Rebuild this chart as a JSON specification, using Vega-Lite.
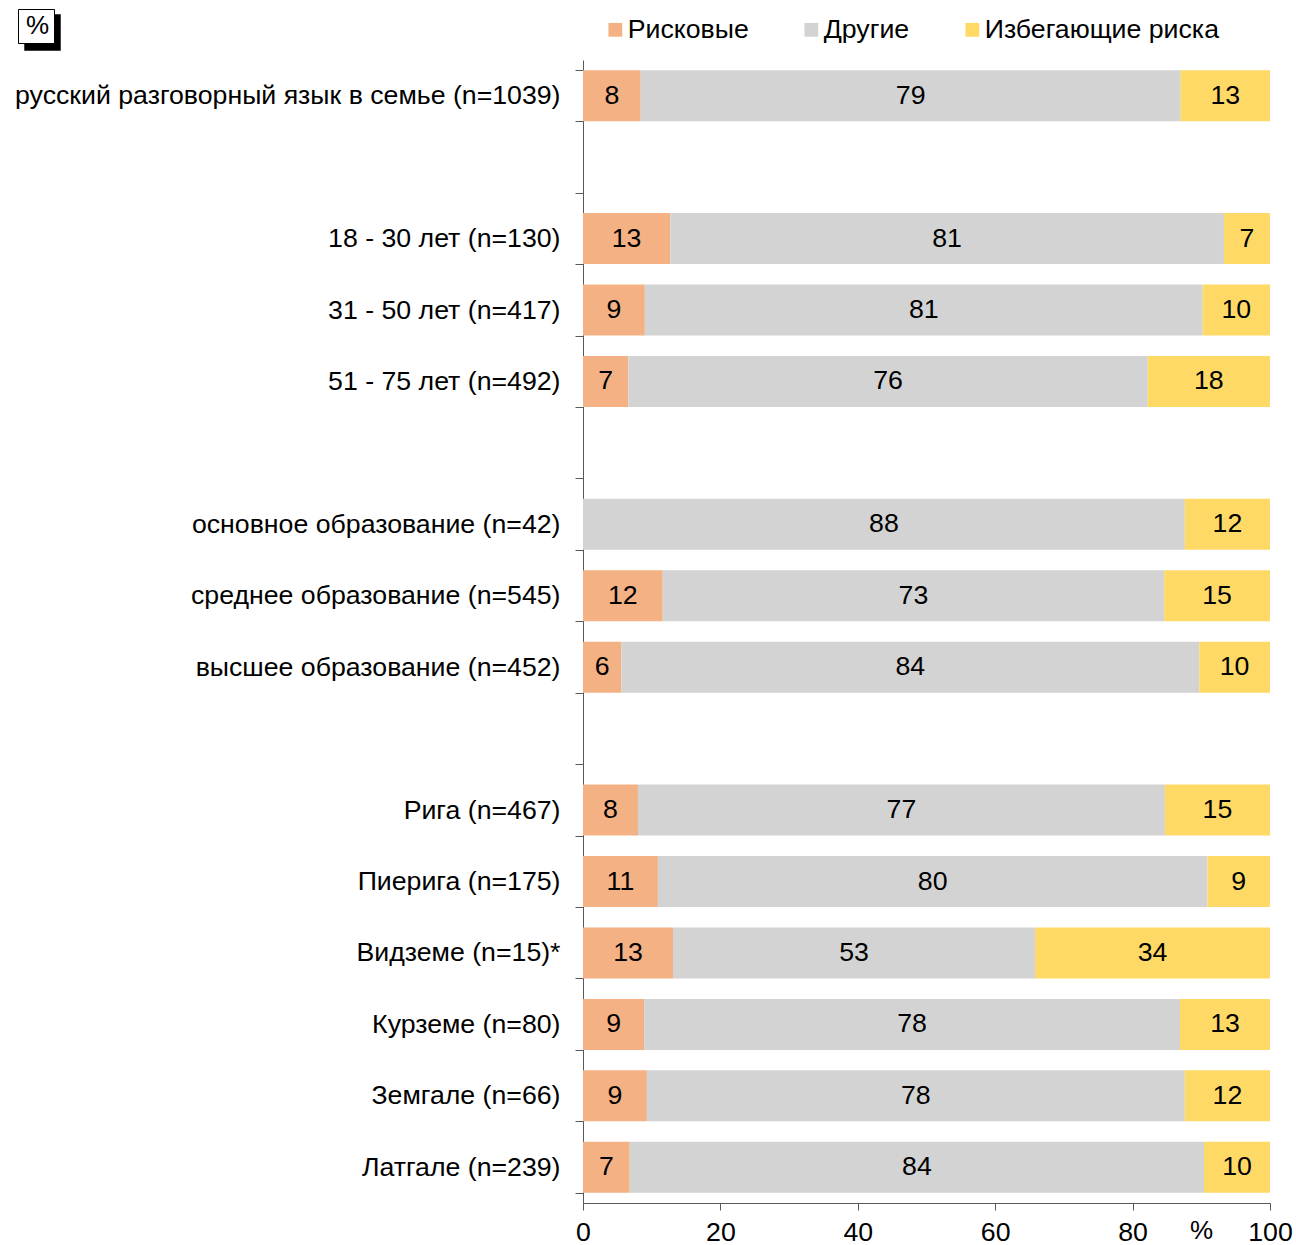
{
  "$schema": "https://vega.github.io/schema/vega-lite/v6.json",
  "width": 687,
  "height": 1143,
  "autosize": {"type": "none"},
  "padding": {"left": 583, "top": 60, "right": 26, "bottom": 42},
  "config": {
    "font": "Liberation Sans",
    "view": {"stroke": null},
    "axis": {"domainColor": "#595959", "tickColor": "#595959", "labelColor": "#000000", "labelFont": "Liberation Sans", "titleFont": "Liberation Sans"},
    "legend": {"labelFont": "Liberation Sans"}
  },
  "datasets": {
    "bars": [
      {"c": "русский разговорный язык в семье (n=1039)", "g": "Рисковые", "v": 8.4, "o": 1},
      {"c": "русский разговорный язык в семье (n=1039)", "g": "Другие", "v": 78.6, "o": 2},
      {"c": "русский разговорный язык в семье (n=1039)", "g": "Избегающие риска", "v": 13.0, "o": 3},
      {"c": "18 - 30 лет (n=130)", "g": "Рисковые", "v": 12.7, "o": 1},
      {"c": "18 - 30 лет (n=130)", "g": "Другие", "v": 80.6, "o": 2},
      {"c": "18 - 30 лет (n=130)", "g": "Избегающие риска", "v": 6.7, "o": 3},
      {"c": "31 - 50 лет (n=417)", "g": "Рисковые", "v": 9.0, "o": 1},
      {"c": "31 - 50 лет (n=417)", "g": "Другие", "v": 81.2, "o": 2},
      {"c": "31 - 50 лет (n=417)", "g": "Избегающие риска", "v": 9.8, "o": 3},
      {"c": "51 - 75 лет (n=492)", "g": "Рисковые", "v": 6.6, "o": 1},
      {"c": "51 - 75 лет (n=492)", "g": "Другие", "v": 75.6, "o": 2},
      {"c": "51 - 75 лет (n=492)", "g": "Избегающие риска", "v": 17.8, "o": 3},
      {"c": "основное образование (n=42)", "g": "Другие", "v": 87.6, "o": 2},
      {"c": "основное образование (n=42)", "g": "Избегающие риска", "v": 12.4, "o": 3},
      {"c": "среднее образование (n=545)", "g": "Рисковые", "v": 11.6, "o": 1},
      {"c": "среднее образование (n=545)", "g": "Другие", "v": 73.0, "o": 2},
      {"c": "среднее образование (n=545)", "g": "Избегающие риска", "v": 15.4, "o": 3},
      {"c": "высшее образование (n=452)", "g": "Рисковые", "v": 5.6, "o": 1},
      {"c": "высшее образование (n=452)", "g": "Другие", "v": 84.1, "o": 2},
      {"c": "высшее образование (n=452)", "g": "Избегающие риска", "v": 10.3, "o": 3},
      {"c": "Рига (n=467)", "g": "Рисковые", "v": 8.0, "o": 1},
      {"c": "Рига (n=467)", "g": "Другие", "v": 76.7, "o": 2},
      {"c": "Рига (n=467)", "g": "Избегающие риска", "v": 15.3, "o": 3},
      {"c": "Пиерига (n=175)", "g": "Рисковые", "v": 10.9, "o": 1},
      {"c": "Пиерига (n=175)", "g": "Другие", "v": 80.0, "o": 2},
      {"c": "Пиерига (n=175)", "g": "Избегающие риска", "v": 9.1, "o": 3},
      {"c": "Видземе (n=15)*", "g": "Рисковые", "v": 13.1, "o": 1},
      {"c": "Видземе (n=15)*", "g": "Другие", "v": 52.7, "o": 2},
      {"c": "Видземе (n=15)*", "g": "Избегающие риска", "v": 34.2, "o": 3},
      {"c": "Курземе (n=80)", "g": "Рисковые", "v": 8.9, "o": 1},
      {"c": "Курземе (n=80)", "g": "Другие", "v": 78.0, "o": 2},
      {"c": "Курземе (n=80)", "g": "Избегающие риска", "v": 13.1, "o": 3},
      {"c": "Земгале (n=66)", "g": "Рисковые", "v": 9.3, "o": 1},
      {"c": "Земгале (n=66)", "g": "Другие", "v": 78.3, "o": 2},
      {"c": "Земгале (n=66)", "g": "Избегающие риска", "v": 12.4, "o": 3},
      {"c": "Латгале (n=239)", "g": "Рисковые", "v": 6.8, "o": 1},
      {"c": "Латгале (n=239)", "g": "Другие", "v": 83.6, "o": 2},
      {"c": "Латгале (n=239)", "g": "Избегающие риска", "v": 9.6, "o": 3}
    ]
  },
  "layer": [
    {
      "data": {"name": "bars"},
      "mark": {"type": "bar"},
      "encoding": {
        "y": {
          "field": "c", "type": "nominal", "sort": null,
          "scale": {
            "domain": ["русский разговорный язык в семье (n=1039)", " ", "18 - 30 лет (n=130)", "31 - 50 лет (n=417)", "51 - 75 лет (n=492)", "  ", "основное образование (n=42)", "среднее образование (n=545)", "высшее образование (n=452)", "   ", "Рига (n=467)", "Пиерига (n=175)", "Видземе (n=15)*", "Курземе (n=80)", "Земгале (n=66)", "Латгале (n=239)"],
            "paddingInner": 0.286, "paddingOuter": 0.143
          },
          "axis": {"title": null, "tickBand": "extent", "tickSize": 8, "labelPadding": 15, "labelFontSize": 26.7, "labelLimit": 700, "domainWidth": 1}
        },
        "x": {
          "field": "v", "type": "quantitative", "stack": "zero",
          "scale": {"domain": [0, 100], "nice": false},
          "axis": {"values": [0, 20, 40, 60, 80, 100], "grid": false, "tickSize": 7, "labelPadding": 9, "labelFontSize": 26.7, "labelFlush": false, "title": "%", "titleX": 618, "titleY": 27, "titleBaseline": "middle", "titleAlign": "center", "titleFontSize": 26, "titleFontWeight": "normal", "titleColor": "#000000"}
        },
        "color": {
          "field": "g", "type": "nominal",
          "scale": {"domain": ["Рисковые", "Другие", "Избегающие риска"], "range": ["#F4B183", "#D3D3D3", "#FFD966"]},
          "legend": {"title": null, "orient": "none", "legendX": 19, "legendY": -44, "direction": "horizontal", "symbolType": "square", "symbolSize": 190, "symbolStrokeWidth": 0, "labelFontSize": 26.7, "labelOffset": -1, "labelLimit": 400, "columnPadding": 49, "labelColor": "#000000"}
        },
        "order": {"field": "o", "type": "quantitative"}
      }
    },
    {
      "data": {"name": "bars"},
      "mark": {"type": "text", "fontSize": 26.7, "color": "#000000", "align": "center", "baseline": "middle"},
      "encoding": {
        "y": {"field": "c", "type": "nominal", "sort": null},
        "x": {"field": "v", "type": "quantitative", "stack": "zero", "bandPosition": 0.5},
        "text": {"field": "v", "type": "quantitative", "format": ".0f"},
        "detail": {"field": "g"},
        "order": {"field": "o", "type": "quantitative"}
      }
    },
    {
      "data": {"values": [{"k": "s"}]},
      "mark": {"type": "square", "filled": true, "color": "#000000", "opacity": 0},
      "encoding": {
        "strokeDash": {"field": "k", "type": "nominal", "legend": {"title": null, "orient": "none", "legendX": -559, "legendY": -46, "symbolType": "square", "symbolSize": 1330, "symbolStrokeWidth": 0, "symbolFillColor": "#000000", "symbolOpacity": 1, "labelOffset": 0, "labelFontSize": 1, "labelExpr": "''", "padding": 0}}
      }
    },
    {
      "data": {"values": [{"p": "%"}]},
      "mark": {"type": "point", "opacity": 0},
      "encoding": {
        "shape": {"field": "p", "type": "nominal", "legend": {"title": null, "orient": "none", "legendX": -565, "legendY": -51, "symbolSize": 0, "symbolStrokeWidth": 0, "labelOffset": -22, "labelFontSize": 26, "labelColor": "#000000", "fillColor": "#FFFFFF", "strokeColor": "#000000", "padding": 4}}
      }
    }
  ]
}
